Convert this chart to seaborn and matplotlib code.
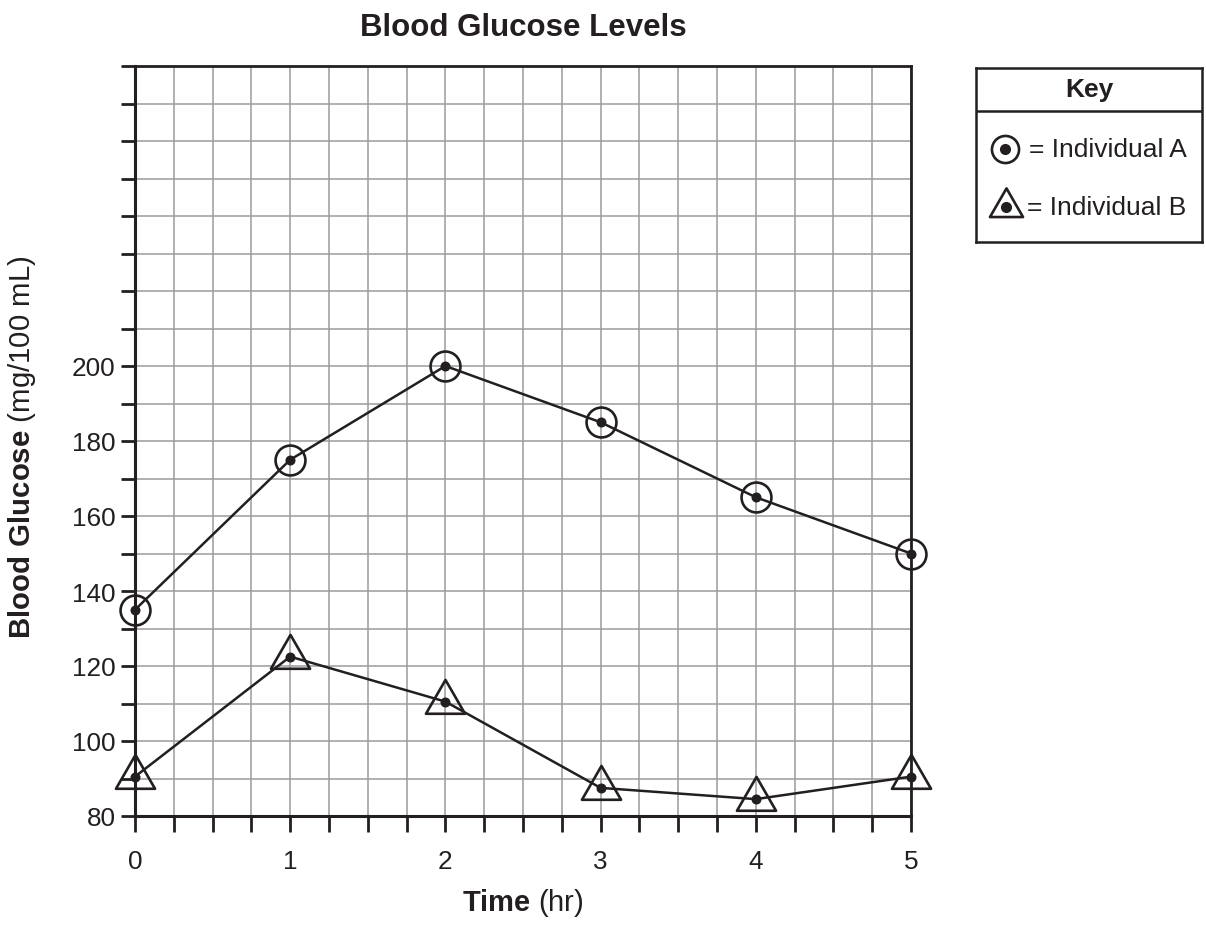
import numpy as np
import pandas as pd
import matplotlib
matplotlib.use("Agg")
import matplotlib.pyplot as plt
import seaborn as sns
from matplotlib.path import Path
from matplotlib.markers import MarkerStyle

# data
time_hr = [0, 1, 2, 3, 4, 5]
glucose_a = [135, 175, 200, 185, 165, 150]
glucose_b = [90.5, 122.5, 110.5, 87.5, 84.5, 90.5]

y_ticks = list(range(80, 281, 10))
y_labels = [str(v) if (v <= 200 and v % 20 == 0) else "" for v in y_ticks]
x_ticks = list(np.arange(0, 5.01, 0.25))
x_labels = [str(int(v)) if v == int(v) else "" for v in x_ticks]

sns.set_style("white")
plt.rcParams["font.family"] = ["Liberation Sans", "DejaVu Sans"]
plt.rcParams["mathtext.fontset"] = "custom"
plt.rcParams["mathtext.rm"] = "Liberation Sans"
plt.rcParams["mathtext.bf"] = "Liberation Sans:bold"

INK = "#231f20"
df = pd.DataFrame({"time": time_hr, "A": glucose_a, "B": glucose_b})

# triangle centred on its centroid
tri_path = Path([(0, 1), (-0.866, -0.5), (0.866, -0.5), (0, 1)],
                [Path.MOVETO, Path.LINETO, Path.LINETO, Path.CLOSEPOLY])
tri = MarkerStyle(tri_path, joinstyle="miter")

fig = plt.figure(figsize=(12.06, 9.28), dpi=100)
W, H = 1206, 928
ax = fig.add_axes([135 / W, 1 - 817 / H, (911 - 135) / W, (817 - 67) / H])

sns.lineplot(data=df, x="time", y="A", ax=ax, color=INK, lw=1.8,
             marker="o", markersize=21.5, markerfacecolor="none",
             markeredgecolor=INK, markeredgewidth=1.9, clip_on=False, zorder=4)
sns.lineplot(data=df, x="time", y="B", ax=ax, color=INK, lw=1.8,
             marker=tri, markersize=32.5, markerfacecolor="none",
             markeredgecolor=INK, markeredgewidth=1.9, clip_on=False, zorder=4)
for col in ["A", "B"]:
    sns.scatterplot(data=df, x="time", y=col, ax=ax, color=INK, s=52,
                    linewidth=0, clip_on=False, zorder=5)

ax.set_xlim(0, 5)
ax.set_ylim(80, 280)
ax.set_xticks(x_ticks)
ax.set_xticklabels(x_labels)
ax.set_yticks(y_ticks)
ax.set_yticklabels(y_labels)
ax.grid(True, color="#9b9b9b", lw=1.1)
ax.set_axisbelow(True)
ax.set_xlabel("")
ax.set_ylabel("")
ax.tick_params(axis="x", direction="out", length=11.5, width=2.0, color=INK,
               labelsize=18.8, labelcolor=INK, pad=12.5, bottom=True)
ax.tick_params(axis="y", direction="out", length=10, width=2.0, color=INK,
               labelsize=18.8, labelcolor=INK, pad=4, left=True)
for s in ["left", "bottom", "top", "right"]:
    ax.spines[s].set_visible(True)
    ax.spines[s].set_color(INK)
    ax.spines[s].set_linewidth(2.0)
ax.spines["left"].set_linewidth(2.2)
ax.spines["bottom"].set_linewidth(2.2)

fig.text(523 / W, 1 - 28 / H, "Blood Glucose Levels", ha="center", va="center",
         fontsize=22.5, fontweight="bold", color=INK)
fig.text(523 / W, 1 - 903 / H, r"$\mathbf{Time}$ (hr)", ha="center", va="center",
         fontsize=21, color=INK)
fig.text(22 / W, 1 - 447 / H, r"$\mathbf{Blood\ Glucose}$ (mg/100 mL)", ha="center",
         va="center", rotation=90, fontsize=21.2, color=INK)

# key box
kax = fig.add_axes([975.7 / W, 1 - 242.7 / H, 226.6 / W, 173.7 / H])
kax.set_xlim(0, 1)
kax.set_ylim(0, 1)
kax.set_xticks([])
kax.set_yticks([])
for s in kax.spines.values():
    s.set_visible(True)
    s.set_color(INK)
    s.set_linewidth(1.8)
kax.axhline(0.753, color=INK, lw=1.8)
kax.text(0.5, 0.877, "Key", ha="center", va="center", fontsize=19,
         fontweight="bold", color=INK)
kax.plot([0.129], [0.534], marker="o", markersize=19.5, markerfacecolor="none",
         markeredgecolor=INK, markeredgewidth=1.9)
kax.plot([0.129], [0.534], marker="o", markersize=7, color=INK)
kax.plot([0.134], [0.20], marker=tri, markersize=27.5, markerfacecolor="none",
         markeredgecolor=INK, markeredgewidth=1.9)
kax.plot([0.134], [0.20], marker="o", markersize=7, color=INK)
kax.text(0.235, 0.534, "= Individual A", ha="left", va="center", fontsize=19,
         color=INK)
kax.text(0.225, 0.20, "= Individual B", ha="left", va="center", fontsize=19,
         color=INK)

fig.savefig("out.png", dpi=100, facecolor="white")
